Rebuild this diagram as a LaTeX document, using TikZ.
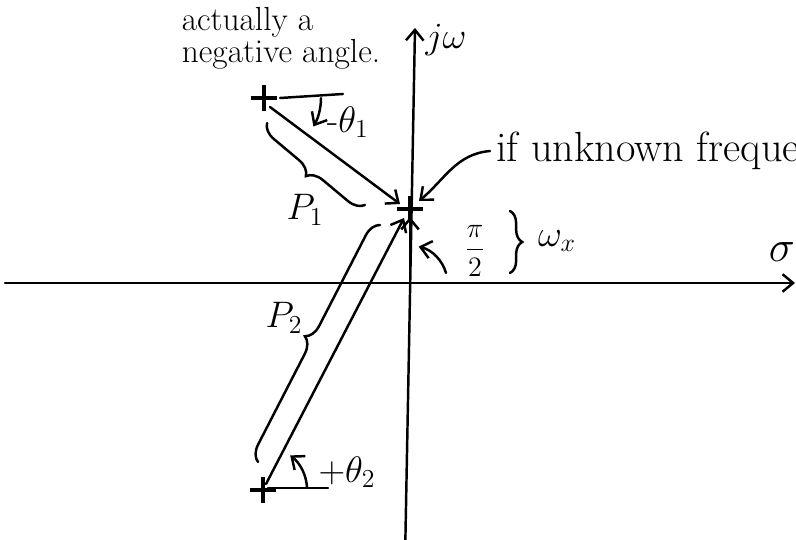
\documentclass[tikz,border=0pt]{standalone}
\usepackage{fix-cm}
\usepackage{amsmath}
\usepackage{tikz}
\usetikzlibrary{arrows.meta,positioning,shapes.misc,decorations.pathreplacing}

\tikzset{
  hand/.style={line width=1.4pt, line cap=round},
  pole/.style={draw, cross out, rotate=45, minimum size=9pt, inner sep=0pt, line width=1.8pt},
  pbrace/.style={hand, decorate, decoration={brace, amplitude=9pt}},
  lbl/.style={font=\fontsize{21}{24}\selectfont},
  note/.style={align=left, font=\fontsize{19}{15}\selectfont},
}

\begin{document}
\begin{tikzpicture}[x=0.02cm, y=-0.02cm, >={Straight Barb[length=6pt,width=10pt]}]
                \useasboundingbox (0,0) rectangle (796,540);
                \clip (0,0) rectangle (796,540);
                % axes
                \coordinate (sl) at (5,283);
                \coordinate (sr) at (795,283);
                \coordinate (wb) at (405,560);
                \coordinate (wt) at (415,28);
                \coordinate (org) at (410,283);
                \draw[hand,->] (sl) -- (sr);
                \draw[hand,->] (wb) -- (wt);
                \node[lbl, font=\fontsize{25}{28}\selectfont] (sig) at (782,252) {$\sigma$};
                \node[lbl] (jw) at (446,40) {$j\omega$};
                \node[note] (neg) at (281,38) {actually a\\negative angle.};

                % poles and the test point
                \node[pole] (p1) at (264,98) {};
                \node[pole] (p2) at (263,490) {};
                \node[pole] (zx) at (410,209) {};

                \draw[hand,->] ([shift={(6,9)}]p1.center) -- ([shift={(-10,-5)}]zx.center);
                \draw[hand,->] ([shift={(3,-6)}]p2.center) -- ([shift={(-6,9)}]zx.center);
                \draw[hand,->] (org) -- ([shift={(0,8)}]zx.center);

                % angles
                \draw[hand] ([shift={(16,0)}]p1.center) -- ++(63,-4);
                \draw[hand,->] ([shift={(57,0)}]p1.center) arc[start angle=0, end angle=30, radius=57];
                \node[lbl, font=\fontsize{21}{24}\selectfont] (th1) at (348,122) {$\text{-}\theta_1$};
                \draw[hand] ([shift={(5,-2)}]p2.center) -- ++(60,0);
                \draw[hand,->] ([shift={(44,-3)}]p2.center) arc[start angle=-4, end angle=-52, radius=44];
                \node[lbl, font=\fontsize{21}{24}\selectfont] (th2) at (347,472) {$+\theta_2$};
                \draw[hand,->] ([shift={(36,-10)}]org) arc[start angle=-16, end angle=-76, radius=38];
                \node[lbl, font=\fontsize{16}{18}\selectfont] (hpi) at (475,251) {$\dfrac{\pi}{2}$};

                % lengths
                \coordinate (b1s) at (365,205);
                \coordinate (b1e) at (267,123);
                \draw[pbrace] (b1s) -- (b1e);
                \node[lbl] (lp1) at (305,210) {$P_1$};
                \coordinate (b2s) at (258,462);
                \coordinate (b2e) at (380,225);
                \draw[pbrace] (b2s) -- (b2e);
                \node[lbl] (lp2) at (284,318) {$P_2$};
                \coordinate (b3s) at (510,211);
                \coordinate (b3e) at (510,273);
                \draw[pbrace, decoration={brace, amplitude=7pt}] (b3s) -- (b3e);
                \node[lbl] (wx) at (557,241) {$\omega_x$};

                \node[lbl, anchor=west, font=\fontsize{24}{28}\selectfont] (unk) at (490,151) {if unknown frequency};
                \draw[hand,->] (unk.west) to[out=185, in=40] ([shift={(9,-8)}]zx.center);

                \node[lbl] (bpi) at (468,553) {$\pi$};
            \end{tikzpicture}
\end{document}
